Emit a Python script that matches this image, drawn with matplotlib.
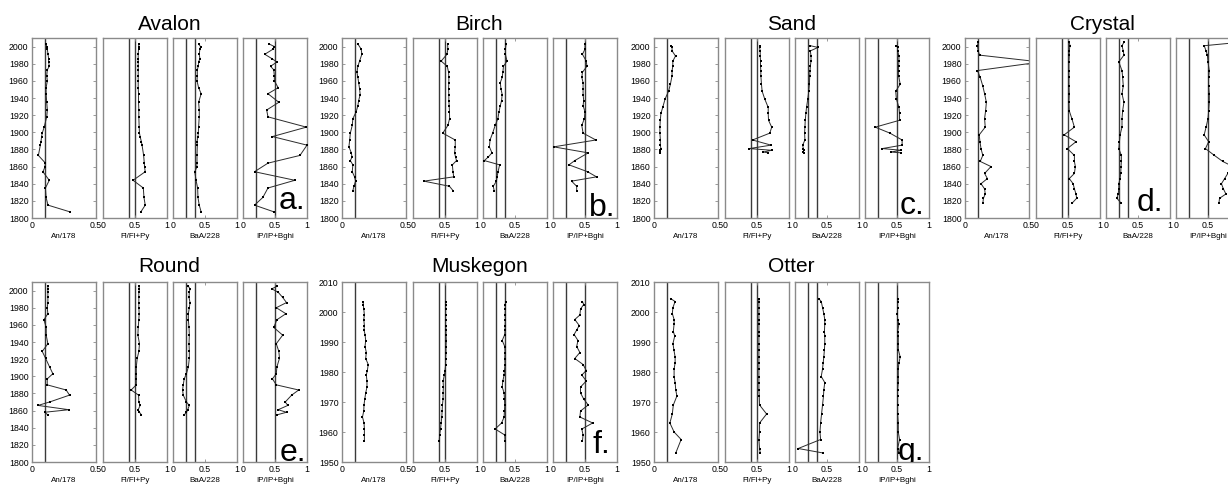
import numpy as np
import matplotlib
matplotlib.use('Agg')
import matplotlib.pyplot as plt

plt.rcParams['font.family'] = ['Liberation Sans', 'DejaVu Sans']

nan = np.nan

# ---------------- data ----------------
ratio_labels = ['An/178', 'Fl/Fl+Py', 'BaA/228', 'IP/IP+Bghi']
ratio_xmax = [0.5, 1.0, 1.0, 1.0]
ratio_refs = [[0.1], [0.4, 0.5], [0.2, 0.35], [0.2, 0.5]]

lake_names = ['Avalon', 'Birch', 'Sand', 'Crystal', 'Round', 'Muskegon', 'Otter']
lake_letters = ['a.', 'b.', 'c.', 'd.', 'e.', 'f.', 'g.']

avalon_years = [2003, 2000, 1997, 1991, 1986, 1982, 1977, 1973, 1966, 1960, 1952, 1945, 1935, 1926, 1918,
                1906, 1899, 1895, 1889, 1885, 1873, 1864, 1859, 1854, 1844, 1835, 1824, 1815, 1807]
avalon_an = [0.11, 0.115, 0.12, 0.125, 0.13, 0.13, 0.135, 0.12, 0.115, 0.12, 0.11, 0.11, 0.115, 0.12, 0.115,
             0.095, 0.08, 0.075, 0.07, 0.065, 0.05, 0.105, 0.10, 0.085, 0.135, 0.105, 0.11, 0.125, 0.30]
avalon_fl = [0.56, 0.56, 0.555, 0.55, 0.55, 0.55, 0.55, 0.55, 0.55, 0.55, 0.55, 0.555, 0.555, 0.56, 0.56,
             0.565, 0.57, 0.58, 0.60, 0.61, 0.635, 0.645, 0.65, 0.66, 0.47, 0.63, 0.64, 0.66, 0.59]
avalon_baa = [0.40, 0.43, 0.42, 0.41, 0.42, 0.40, 0.395, 0.38, 0.38, 0.375, 0.40, 0.44, 0.40, 0.41, 0.41,
              0.40, 0.395, 0.39, 0.375, 0.38, 0.375, 0.375, 0.37, 0.34, 0.36, 0.385, 0.39, 0.41, 0.44]
avalon_ip = [0.41, 0.49, 0.47, 0.34, 0.45, 0.53, 0.43, 0.48, 0.49, 0.49, 0.55, 0.39, 0.56, 0.37, 0.39,
             0.99, nan, 0.46, nan, 1.0, 0.89, 0.39, nan, 0.18, 0.81, 0.39, 0.31, 0.18, 0.49]

birch_years = [2003, 1997, 1991, 1983, 1977, 1970, 1964, 1958, 1951, 1944, 1937, 1931, 1924, 1916,
               1908, 1899, 1891, 1883, 1876, 1871, 1867, 1862, 1854, 1848, 1843, 1837, 1832]
birch_an = [0.124, 0.15, 0.155, 0.137, 0.124, 0.117, 0.124, 0.13, 0.137, 0.142, 0.13, 0.124, 0.111, 0.085,
            0.08, 0.065, 0.06, 0.054, 0.073, 0.078, 0.065, 0.085, 0.08, 0.098, 0.106, 0.093, 0.085]
birch_fl = [0.54, 0.545, 0.53, 0.44, 0.535, 0.556, 0.56, 0.56, 0.556, 0.56, 0.56, 0.565, 0.57, 0.572,
            0.545, 0.465, 0.66, 0.66, 0.65, 0.665, 0.68, 0.615, 0.625, 0.636, 0.17, 0.57, 0.625]
birch_baa = [0.36, 0.35, 0.35, 0.375, 0.32, 0.31, 0.30, 0.27, 0.28, 0.30, 0.29, 0.27, 0.25, 0.233,
             0.19, 0.15, 0.11, 0.10, 0.14, 0.08, 0.02, 0.26, 0.235, 0.22, 0.21, 0.16, 0.175]
birch_ip = [0.50, 0.50, 0.46, 0.52, 0.53, 0.46, 0.45, 0.47, 0.47, 0.47, 0.48, 0.47, 0.50, 0.49,
            0.45, 0.47, 0.67, 0.01, 0.55, nan, 0.34, 0.25, 0.54, 0.68, 0.29, 0.37, 0.37]

sand_years = [2001, 1999, 1995, 1989, 1983, 1977, 1972, 1966, 1956, 1948, 1939, 1929, 1922, 1914,
              1906, 1899, 1891, 1885, 1881, 1879, 1877, 1876]
sand_an = [0.136, 0.141, 0.141, 0.168, 0.147, 0.147, 0.141, 0.141, 0.128, 0.114, 0.087, 0.068, 0.054, 0.049,
           0.046, 0.046, 0.05, 0.049, 0.054, 0.046, 0.046, 0.05]
sand_fl = [0.54, 0.54, 0.55, 0.55, 0.555, 0.555, 0.56, 0.56, 0.57, 0.58, 0.62, 0.675, 0.675, 0.68,
           0.73, 0.70, 0.43, 0.72, 0.38, 0.73, 0.60, 0.675]
sand_baa = [0.24, 0.36, 0.24, 0.25, 0.25, 0.24, 0.235, 0.23, 0.225, 0.215, 0.20, 0.18, 0.17, 0.16,
            0.155, 0.15, 0.155, 0.12, 0.13, 0.14, 0.13, 0.14]
sand_ip = [0.49, 0.51, 0.51, 0.53, 0.53, 0.525, 0.525, 0.525, 0.55, 0.48, 0.49, 0.53, 0.54, 0.54,
           0.16, 0.39, 0.58, 0.58, 0.27, 0.57, 0.40, 0.57]

crystal_years = [2005, 2001, 1995, 1990, 1982, 1972, 1964, 1954, 1945, 1935, 1925, 1916, 1906,
                 1897, 1889, 1881, 1873, 1866, 1860, 1852, 1846, 1840, 1834, 1828, 1823, 1817]
crystal_an = [0.103, 0.097, 0.103, 0.114, 0.59, 0.097, 0.119, 0.139, 0.153, 0.167, 0.161, 0.153, 0.158,
              0.111, 0.117, 0.125, 0.139, 0.119, 0.203, 0.153, 0.175, 0.125, 0.153, 0.158, 0.144, 0.139]
crystal_fl = [0.52, 0.53, 0.52, 0.52, 0.515, 0.515, 0.515, 0.515, 0.52, 0.515, 0.52, 0.56, 0.60,
              0.44, 0.625, 0.49, 0.60, 0.60, 0.615, 0.60, 0.52, 0.58, 0.60, 0.625, 0.635, 0.56]
crystal_baa = [0.28, 0.25, 0.27, 0.28, 0.20, 0.25, 0.26, 0.27, 0.25, 0.28, 0.26, 0.25, 0.25,
               0.22, 0.21, 0.20, 0.24, 0.24, 0.235, 0.23, 0.22, 0.20, 0.20, 0.19, 0.17, 0.24]
crystal_ip = [1.0, 0.44, 0.47, 0.49, 0.50, 0.52, 0.51, 0.51, 0.52, 0.52, 0.51, 0.50, 0.47,
              0.44, 0.51, 0.46, 0.60, 0.73, 0.89, 0.81, 0.76, 0.71, 0.74, 0.78, 0.68, 0.67]

round_years = [2005, 2002, 1998, 1992, 1986, 1980, 1973, 1966, 1957, 1948, 1938, 1929, 1921, 1911,
               1903, 1897, 1890, 1884, 1878, 1870, 1866, 1861, 1858, 1855]
round_an = [0.124, 0.124, 0.124, 0.124, 0.124, 0.119, 0.124, 0.093, 0.111, 0.111, 0.124, 0.08, 0.106, 0.137,
            0.163, 0.119, 0.119, 0.267, 0.293, 0.137, 0.047, 0.288, 0.098, 0.124]
round_fl = [0.56, 0.57, 0.56, 0.56, 0.56, 0.56, 0.565, 0.56, 0.55, 0.545, 0.57, 0.56, 0.535, 0.52,
            0.52, 0.52, 0.52, 0.44, 0.556, 0.56, 0.58, 0.55, 0.57, 0.60]
round_baa = [0.24, 0.266, 0.255, 0.25, 0.266, 0.255, 0.24, 0.24, 0.25, 0.255, 0.25, 0.255, 0.255, 0.24,
             0.21, 0.175, 0.16, 0.15, 0.16, 0.21, 0.255, 0.23, 0.21, 0.175]
round_ip = [0.53, 0.45, 0.55, 0.62, 0.68, 0.52, 0.67, 0.53, 0.48, 0.62, 0.52, 0.56, 0.57, 0.53,
            0.52, 0.46, 0.52, 0.87, 0.76, 0.66, 0.70, 0.55, 0.68, 0.53]

muskegon_years = [2003.5, 2002.5, 2001, 1999, 1997.5, 1995.5, 1994, 1992.5, 1990.5, 1988.5, 1986.5, 1984.5,
                  1982.5, 1980.5, 1979, 1977, 1975, 1973, 1971, 1969, 1967, 1965, 1963, 1961, 1959, 1957]
muskegon_an = [0.166, 0.166, 0.17, 0.175, 0.17, 0.175, 0.172, 0.18, 0.185, 0.18, 0.19, 0.185,
               0.205, 0.198, 0.19, 0.195, 0.195, 0.185, 0.178, 0.172, 0.17, 0.16, 0.172, 0.175, 0.175, 0.175]
muskegon_fl = [0.51, 0.51, 0.51, 0.51, 0.51, 0.51, 0.515, 0.515, 0.52, 0.515, 0.515, 0.51,
               0.51, 0.50, 0.49, 0.47, 0.475, 0.47, 0.47, 0.46, 0.455, 0.45, 0.44, 0.43, 0.415, 0.41]
muskegon_baa = [0.36, 0.345, 0.35, 0.345, 0.35, 0.345, 0.345, 0.34, 0.30, 0.34, 0.345, 0.34,
                0.345, 0.335, 0.33, 0.31, 0.30, 0.33, 0.335, 0.34, 0.335, 0.33, 0.29, 0.19, 0.34, 0.345]
muskegon_ip = [0.46, 0.48, 0.43, 0.42, 0.34, 0.41, 0.37, 0.33, 0.39, 0.37, 0.42, 0.34,
               0.47, 0.52, 0.45, 0.52, 0.43, 0.43, 0.48, 0.55, 0.43, 0.42, 0.62, 0.45, 0.47, 0.46]

otter_years = [2004.5, 2003.5, 2001.5, 1999.5, 1997.5, 1996, 1993.5, 1992, 1989.5, 1987.5, 1985, 1983,
               1981, 1978.5, 1976.5, 1974, 1972, 1969, 1966, 1963, 1960, 1957.5, 1954.5, 1953]
otter_an = [0.129, 0.165, 0.148, 0.143, 0.157, 0.157, 0.151, 0.162, 0.148, 0.155, 0.165, 0.165,
            0.157, 0.157, 0.165, 0.17, 0.179, 0.151, 0.143, 0.124, 0.157, 0.212, nan, 0.17]
otter_fl = [0.53, 0.53, 0.53, 0.53, 0.53, 0.53, 0.53, 0.53, 0.53, 0.53, 0.53, 0.53,
            0.53, 0.53, 0.53, 0.53, 0.535, 0.54, 0.65, 0.54, 0.54, 0.53, 0.54, 0.55]
otter_baa = [0.37, 0.41, 0.43, 0.45, 0.465, 0.465, 0.46, 0.465, 0.465, 0.46, 0.45, 0.44,
             0.43, 0.41, 0.465, 0.45, 0.445, 0.43, 0.415, 0.40, 0.39, 0.40, 0.05, 0.44]
otter_ip = [0.52, 0.51, 0.51, 0.505, 0.51, 0.53, 0.51, 0.52, 0.52, 0.52, 0.55, 0.53,
            0.52, 0.52, 0.52, 0.51, 0.51, 0.51, 0.51, 0.52, 0.52, 0.54, 0.51, 0.53]

lake_years = [avalon_years, birch_years, sand_years, crystal_years, round_years, muskegon_years, otter_years]
lake_values = [
    [avalon_an, avalon_fl, avalon_baa, avalon_ip],
    [birch_an, birch_fl, birch_baa, birch_ip],
    [sand_an, sand_fl, sand_baa, sand_ip],
    [crystal_an, crystal_fl, crystal_baa, crystal_ip],
    [round_an, round_fl, round_baa, round_ip],
    [muskegon_an, muskegon_fl, muskegon_baa, muskegon_ip],
    [otter_an, otter_fl, otter_baa, otter_ip],
]
long_ylim = (1800, 2010)
long_yticks = list(range(1800, 2001, 20))
short_ylim = (1950, 2010)
short_yticks = list(range(1950, 2011, 10))

# ---------------- layout (pixels) ----------------
W, H = 1228, 484
lake_left_px = [32, 342, 654, 965, 32, 342, 654]
lake_row = [0, 0, 0, 0, 1, 1, 1]
row_top_px = [38, 282]
title_base_px = [30, 272]
panel_h_px = 180
panel_w_px = 64
panel_off_px = [0, 71, 141, 211]
# letter placement: (panel index, x in axes fraction, baseline y in axes fraction)
letter_pos = [(3, 0.98, 0.05), (3, 0.97, 0.01), (3, 0.92, 0.02), (2, 0.90, 0.04),
              (3, 0.99, 0.005), (3, 0.90, 0.05), (3, 0.92, 0.01)]

frame_col = '#8a8a8a'
ref_col = '#3a3a3a'

fig = plt.figure(figsize=(W / 100, H / 100), dpi=100)

for li, name in enumerate(lake_names):
    row = lake_row[li]
    left0 = lake_left_px[li]
    top = row_top_px[row]
    years = np.array(lake_years[li], dtype=float)
    short = name in ('Muskegon', 'Otter')
    ylim = short_ylim if short else long_ylim
    yticks = short_yticks if short else long_yticks
    axes = []
    for pi in range(4):
        l = (left0 + panel_off_px[pi]) / W
        b = 1 - (top + panel_h_px) / H
        ax = fig.add_axes([l, b, panel_w_px / W, panel_h_px / H])
        axes.append(ax)
        vals = np.array(lake_values[li][pi], dtype=float)
        m = np.isfinite(vals)
        for r in ratio_refs[pi]:
            ax.axvline(r, color=ref_col, lw=1.0, zorder=1)
        ax.plot(vals[m], years[m], '-', color='#2b2b2b', lw=0.7, zorder=2)
        ax.plot(vals[m], years[m], 's', color='black', ms=1.8, mew=0, zorder=3)
        ax.set_xlim(0, ratio_xmax[pi])
        ax.set_ylim(*ylim)
        if pi == 0:
            ax.set_xticks([0, 0.5])
            ax.set_xticklabels(['0', '0.5'])
            ax.set_yticks(yticks)
            ax.set_yticklabels([str(y) for y in yticks])
            ax.tick_params(axis='y', which='both', direction='in', length=2, width=0.6,
                           color=frame_col, labelsize=6.3, pad=2.5, left=True, right=True)
        else:
            ax.set_xticks([0, 0.5, 1])
            ax.set_xticklabels(['0', '0.5', '1'])
            ax.set_yticks([])
        ax.tick_params(axis='x', which='both', direction='in', length=2, width=0.6,
                       color=frame_col, labelsize=6.3, pad=2.5, top=True, bottom=True)
        ax.set_xlabel(ratio_labels[pi], fontsize=5.8, labelpad=2)
        for s in ax.spines.values():
            s.set_color(frame_col)
            s.set_linewidth(1.0)
    # title
    cx = (left0 + (panel_off_px[3] + panel_w_px) / 2) / W
    fig.text(cx, 1 - title_base_px[row] / H, name, ha='center', va='baseline', fontsize=15)
    # letter
    pidx, lx, ly = letter_pos[li]
    axes[pidx].text(lx, ly, lake_letters[li], transform=axes[pidx].transAxes,
                    ha='right', va='baseline', fontsize=23, clip_on=True, zorder=5)

fig.savefig('out.png', dpi=100)
